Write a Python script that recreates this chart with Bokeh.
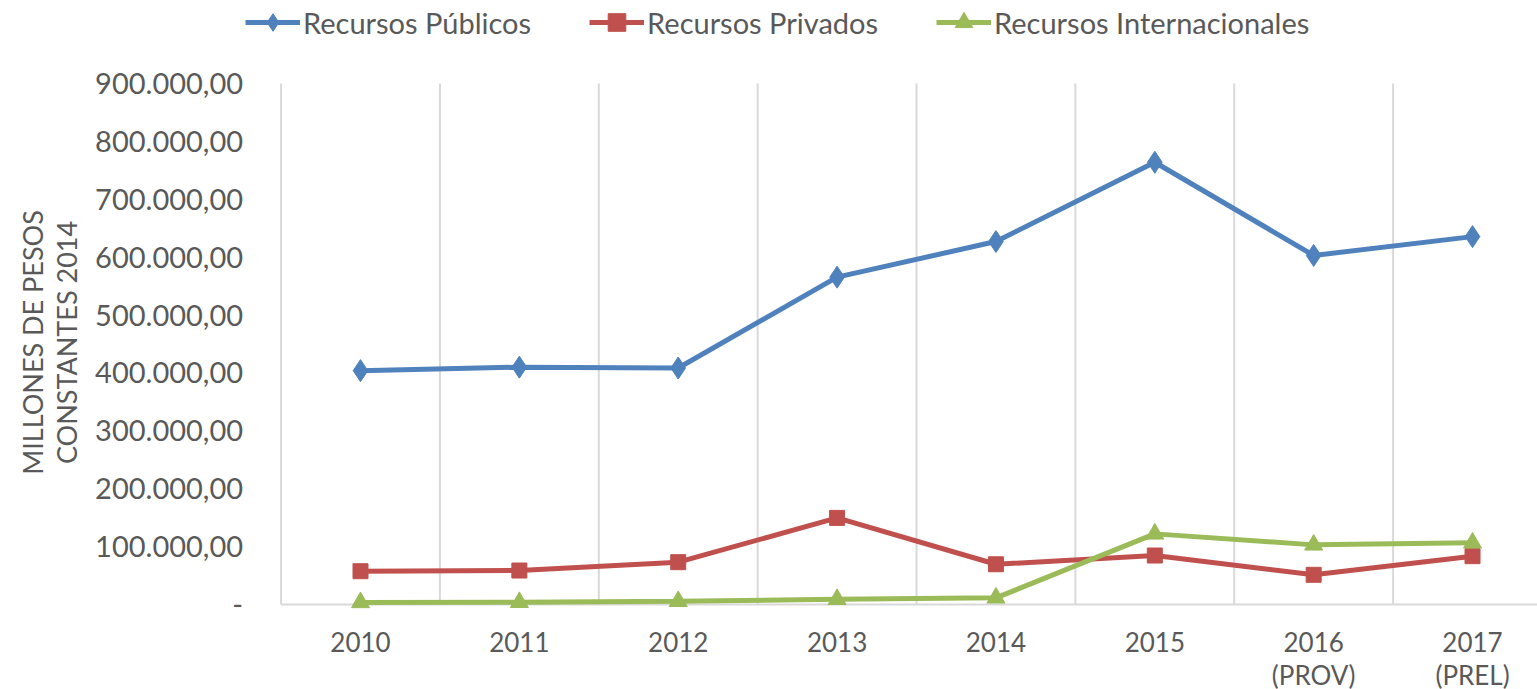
import math
from bokeh.plotting import figure
from bokeh.models import Range1d, Legend, LegendItem, Label
from bokeh.core.properties import value
from bokeh.embed import file_html
from bokeh.resources import INLINE

# ---------------- data ----------------
categories = ["2010", "2011", "2012", "2013", "2014", "2015", "2016", "2017"]
category_notes = ["", "", "", "", "", "", "(PROV)", "(PREL)"]
publicos = [404000, 410000, 408500, 565500, 627000, 764000, 603000, 635500]
privados = [57500, 58700, 73100, 149600, 69500, 84600, 51300, 83500]
internacionales = [3500, 3800, 5500, 9000, 11500, 122000, 103000, 106500]
series_names = ["Recursos Públicos", "Recursos Privados", "Recursos Internacionales"]
y_ticks = [0, 100000, 200000, 300000, 400000, 500000, 600000, 700000, 800000, 900000]
y_tick_labels = ["-", "100.000,00", "200.000,00", "300.000,00", "400.000,00", "500.000,00",
                 "600.000,00", "700.000,00", "800.000,00", "900.000,00"]
y_title_lines = ["MILLONES DE PESOS", "CONSTANTES 2014"]

# ---------------- layout ----------------
W, H = 1537, 689
CAT_PX = 158.86      # width of one category in px
CAT0_PX = 360        # px of first category centre
PLOT_TOP_PX = 83     # px of y max
PLOT_BOT_PX = 604    # px of y = 0
FONT = "Lato"
TXT = "#595959"
GRID = "#D9D9D9"

xs = list(range(len(categories)))
y_max = y_ticks[-1]
units_per_px = y_max / (PLOT_BOT_PX - PLOT_TOP_PX)
x_start = -CAT0_PX / CAT_PX
x_end = (W - CAT0_PX) / CAT_PX
y_start = -(H - PLOT_BOT_PX) * units_per_px
y_end = y_max + PLOT_TOP_PX * units_per_px

p = figure(width=W, height=H,
           x_range=Range1d(x_start, x_end), y_range=Range1d(y_start, y_end),
           x_axis_type=None, y_axis_type=None,
           output_backend="svg", toolbar_location=None,
           min_border_left=0, min_border_right=0, min_border_top=0, min_border_bottom=0)
p.outline_line_color = None
p.background_fill_color = "white"
p.border_fill_color = "white"

# vertical grid lines at category boundaries (first one is the value axis line)
bounds = [i - 0.5 for i in xs]
p.segment(x0=bounds, y0=[0] * len(bounds), x1=bounds, y1=[y_max] * len(bounds),
          line_color=GRID, line_width=2)
# category axis line
p.segment(x0=[bounds[0]], y0=[0], x1=[x_end], y1=[0], line_color=GRID, line_width=2)

# value-axis tick labels
p.text(x=[bounds[0]] * len(y_ticks), y=y_ticks, text=y_tick_labels,
       x_offset=-38, text_align="right", text_baseline="middle",
       text_font=value(FONT), text_font_size="29px", text_color=TXT)

# category labels (two lines)
p.text(x=xs, y=[0] * len(xs), text=categories, y_offset=37,
       text_align="center", text_baseline="middle",
       text_font=value(FONT), text_font_size="26px", text_color=TXT)
note_x = [x for x, n in zip(xs, category_notes) if n]
note_t = [n for n in category_notes if n]
p.text(x=note_x, y=[0] * len(note_x), text=note_t, y_offset=70,
       text_align="center", text_baseline="middle",
       text_font=value(FONT), text_font_size="26px", text_color=TXT)

# value-axis title (two rotated lines)
for line, sx in zip(y_title_lines, [32, 66]):
    p.add_layout(Label(x=sx, y=H - 342, x_units="screen", y_units="screen",
                       text=line, angle=math.pi / 2, text_align="center",
                       text_baseline="middle", text_font=FONT,
                       text_font_size="27px", text_color=TXT))

# series
colors = ["#4F81BD", "#C0504D", "#9BBB59"]
markers = ["diamond", "square", "triangle"]
sizes = [22, 15, 18]
items = []
for name, vals, col, mk, sz in zip(series_names, [publicos, privados, internacionales], colors, markers, sizes):
    lr = p.line(xs, vals, line_color=col, line_width=5)
    sr = p.scatter(xs, vals, marker=mk, size=sz, fill_color=col, line_color=col)
    items.append(LegendItem(label=name, renderers=[lr, sr]))

legend = Legend(items=items, orientation="horizontal", location=(245, H - 44))
legend.border_line_color = None
legend.background_fill_alpha = 0
legend.label_text_font = FONT
legend.label_text_font_size = "29px"
legend.label_text_color = TXT
legend.glyph_width = 55
legend.glyph_height = 44
legend.label_standoff = 3
legend.spacing = 58
legend.padding = 0
legend.margin = 0
p.add_layout(legend, "center")

open("out.html", "w").write(file_html(p, INLINE))
